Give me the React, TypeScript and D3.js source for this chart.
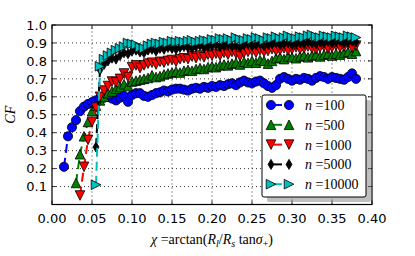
import * as d3 from "d3";
import React from "react";

const width = 415;
const height = 256;
const margin = { top: 25, right: 43, bottom: 51.5, left: 52 };

// x positions shared by all series
const xs = [
  0.015, 0.02, 0.025, 0.03, 0.035, 0.04, 0.045, 0.05, 0.055, 0.06,
  0.065, 0.07, 0.075, 0.08, 0.085, 0.09, 0.095, 0.1, 0.105, 0.11,
  0.115, 0.12, 0.125, 0.13, 0.135, 0.14, 0.145, 0.15, 0.155, 0.16,
  0.165, 0.17, 0.175, 0.18, 0.185, 0.19, 0.195, 0.2, 0.205, 0.21,
  0.215, 0.22, 0.225, 0.23, 0.235, 0.24, 0.245, 0.25, 0.255, 0.26,
  0.265, 0.27, 0.275, 0.28, 0.285, 0.29, 0.295, 0.3, 0.305, 0.31,
  0.315, 0.32, 0.325, 0.33, 0.335, 0.34, 0.345, 0.35, 0.355, 0.36,
  0.365, 0.37, 0.375, 0.38,
];

const n100 = [
  0.21, 0.38, 0.43, 0.47, 0.52, 0.545, 0.56, 0.57, 0.58, 0.59,
  0.595, 0.6, 0.59, 0.58, 0.595, 0.605, 0.572, 0.61, 0.62, 0.62,
  0.605, 0.6, 0.61, 0.62, 0.625, 0.635, 0.63, 0.64, 0.645, 0.645,
  0.64, 0.635, 0.645, 0.65, 0.645, 0.655, 0.65, 0.66, 0.655, 0.665,
  0.66, 0.67, 0.675, 0.665, 0.68, 0.69, 0.68, 0.675, 0.685, 0.69,
  0.675, 0.66, 0.65, 0.665, 0.7, 0.71, 0.7, 0.69, 0.7, 0.695,
  0.705, 0.7, 0.69, 0.705, 0.715, 0.71, 0.7, 0.71, 0.705, 0.7,
  0.695, 0.71, 0.73, 0.7,
];

const n500 = [
  null, null, null, 0.12, 0.28, 0.38, 0.46, 0.52, 0.55, 0.58,
  0.6, 0.62, 0.63, 0.645, 0.655, 0.67, 0.66, 0.685, 0.69, 0.695,
  0.7, 0.705, 0.72, 0.71, 0.715, 0.725, 0.73, 0.735, 0.74, 0.735,
  0.745, 0.75, 0.745, 0.755, 0.76, 0.755, 0.765, 0.77, 0.765, 0.775,
  0.78, 0.775, 0.785, 0.79, 0.78, 0.795, 0.79, 0.8, 0.79, 0.805,
  0.8, 0.785, 0.8, 0.815, 0.82, 0.81, 0.825, 0.82, 0.815, 0.825,
  0.83, 0.82, 0.83, 0.835, 0.825, 0.835, 0.84, 0.83, 0.84, 0.835,
  0.845, 0.85, 0.84, 0.855,
];

const n1000 = [
  null, null, null, null, 0.05, 0.21, 0.36, 0.46, 0.54, 0.6,
  0.635, 0.66, 0.685, 0.68, 0.7, 0.73, 0.71, 0.765, 0.775, 0.76,
  0.775, 0.785, 0.79, 0.78, 0.795, 0.79, 0.8, 0.805, 0.795, 0.81,
  0.815, 0.81, 0.825, 0.815, 0.83, 0.82, 0.835, 0.83, 0.84, 0.83,
  0.845, 0.835, 0.85, 0.84, 0.825, 0.845, 0.85, 0.855, 0.845, 0.86,
  0.85, 0.855, 0.865, 0.855, 0.86, 0.87, 0.86, 0.865, 0.875, 0.865,
  0.87, 0.88, 0.87, 0.865, 0.875, 0.88, 0.87, 0.875, 0.885, 0.875,
  0.88, 0.89, 0.875, 0.885,
];

const n5000 = [
  null, null, null, null, null, null, null, null, 0.32, 0.75,
  0.78, 0.8, 0.815, 0.81, 0.83, 0.845, 0.84, 0.855, 0.86, 0.85,
  0.845, 0.86, 0.865, 0.855, 0.87, 0.865, 0.875, 0.87, 0.865, 0.875,
  0.88, 0.875, 0.87, 0.88, 0.885, 0.875, 0.88, 0.885, 0.89, 0.88,
  0.885, 0.89, 0.88, 0.885, 0.875, 0.89, 0.895, 0.885, 0.89, 0.895,
  0.885, 0.89, 0.895, 0.9, 0.89, 0.895, 0.9, 0.89, 0.895, 0.9,
  0.895, 0.905, 0.9, 0.895, 0.905, 0.9, 0.91, 0.9, 0.905, 0.91,
  0.9, 0.905, 0.91, 0.905,
];

const n10000 = [
  null, null, null, null, null, null, null, null, 0.11, 0.77,
  0.81, 0.83, 0.845, 0.86, 0.87, 0.88, 0.9, 0.895, 0.89, 0.875,
  0.87, 0.885, 0.895, 0.9, 0.895, 0.905, 0.9, 0.91, 0.905, 0.91,
  0.905, 0.91, 0.915, 0.905, 0.91, 0.915, 0.91, 0.92, 0.915, 0.925,
  0.92, 0.925, 0.915, 0.93, 0.92, 0.915, 0.925, 0.92, 0.93, 0.925,
  0.915, 0.93, 0.925, 0.935, 0.925, 0.93, 0.94, 0.93, 0.925, 0.935,
  0.93, 0.94, 0.945, 0.935, 0.93, 0.94, 0.935, 0.93, 0.94, 0.935,
  0.93, 0.94, 0.935, 0.93,
];

const seriesLabels = ["100", "500", "1000", "5000", "10000"];
const seriesValues = [n100, n500, n1000, n5000, n10000];
const seriesColors = ["#0000ff", "#008000", "#ff0000", "#000000", "#00bfbf"];
const seriesShapes = ["o", "^", "v", "d", ">"];

const xTicks = [0, 0.05, 0.1, 0.15, 0.2, 0.25, 0.3, 0.35, 0.4];
const yTicks = [0.1, 0.2, 0.3, 0.4, 0.5, 0.6, 0.7, 0.8, 0.9, 1.0];

const mathFont = "'Liberation Serif', 'DejaVu Serif', serif";
const tickFont = "'DejaVu Sans', sans-serif";

// matplotlib-like marker outlines
const markerPath = (shape: string, s: number) => {
  switch (shape) {
    case "^":
      return `M0,${-s}L${s},${s}L${-s},${s}Z`;
    case "v":
      return `M0,${s}L${s},${-s}L${-s},${-s}Z`;
    case ">":
      return `M${s},0L${-s},${s}L${-s},${-s}Z`;
    case "d":
      return `M0,${-s * 1.05}L${s * 0.62},0L0,${s * 1.05}L${-s * 0.62},0Z`;
    default:
      return d3.symbol(d3.symbolCircle, Math.PI * s * s)() || "";
  }
};

const Marker = ({ shape, color, x, y }: any) => (
  <path
    d={markerPath(shape, shape === "o" ? 4.6 : 4.8)}
    transform={`translate(${x},${y})`}
    fill={color}
    stroke="#000"
    strokeWidth={0.8}
  />
);

const App = () => {
  const x = d3
    .scaleLinear()
    .domain([0, 0.4])
    .range([margin.left, width - margin.right]);
  const y = d3
    .scaleLinear()
    .domain([0, 1])
    .range([height - margin.bottom, margin.top]);

  const line = d3
    .line<any>()
    .defined((d) => d.v != null)
    .x((d) => x(d.x))
    .y((d) => y(d.v));

  const x0 = margin.left;
  const x1 = width - margin.right;
  const y0 = height - margin.bottom;
  const y1 = margin.top;

  // legend geometry
  const lg = { left: 262, top: 95, w: 104, h: 102 };
  const rowY = (i: number) => 105 + i * 19.8;

  return (
    <svg
      width={width}
      height={height}
      style={{ position: "absolute", left: 0, top: 0, background: "#fff" }}
    >
      <defs>
        <clipPath id="plotArea">
          <rect x={x0} y={y1} width={x1 - x0} height={y0 - y1} />
        </clipPath>
      </defs>

      {/* grid */}
      <g stroke="#000" strokeWidth={0.8} strokeDasharray="1,3">
        {xTicks.slice(1, -1).map((t) => (
          <line key={"gx" + t} x1={x(t)} x2={x(t)} y1={y0} y2={y1} />
        ))}
        {yTicks.slice(0, -1).map((t) => (
          <line key={"gy" + t} x1={x0} x2={x1} y1={y(t)} y2={y(t)} />
        ))}
      </g>

      {/* series */}
      <g clipPath="url(#plotArea)">
        {seriesValues.map((vals, si) => {
          const pts = xs.map((xv, i) => ({ x: xv, v: vals[i] }));
          return (
            <g key={si}>
              <path
                d={line(pts) || ""}
                fill="none"
                stroke={seriesColors[si]}
                strokeWidth={2}
                strokeDasharray="9,5"
              />
              {pts
                .filter((p) => p.v != null)
                .map((p, i) => (
                  <Marker
                    key={i}
                    shape={seriesShapes[si]}
                    color={seriesColors[si]}
                    x={x(p.x)}
                    y={y(p.v)}
                  />
                ))}
            </g>
          );
        })}
      </g>

      {/* ticks, inside on all sides */}
      <g stroke="#000" strokeWidth={0.8}>
        {xTicks.map((t) => (
          <g key={"tx" + t}>
            <line x1={x(t)} x2={x(t)} y1={y0} y2={y0 - 4} />
            <line x1={x(t)} x2={x(t)} y1={y1} y2={y1 + 4} />
          </g>
        ))}
        {yTicks.map((t) => (
          <g key={"ty" + t}>
            <line x1={x0} x2={x0 + 4} y1={y(t)} y2={y(t)} />
            <line x1={x1} x2={x1 - 4} y1={y(t)} y2={y(t)} />
          </g>
        ))}
      </g>

      {/* frame */}
      <rect
        x={x0}
        y={y1}
        width={x1 - x0}
        height={y0 - y1}
        fill="none"
        stroke="#000"
        strokeWidth={1.2}
      />

      {/* tick labels */}
      <g fontFamily={tickFont} fontSize={13} fill="#000">
        {xTicks.map((t) => (
          <text key={"lx" + t} x={x(t)} y={y0 + 18} textAnchor="middle">
            {d3.format(".2f")(t)}
          </text>
        ))}
        {yTicks.map((t) => (
          <text
            key={"ly" + t}
            x={x0 - 5}
            y={y(t)}
            dy="0.36em"
            textAnchor="end"
          >
            {d3.format(".1f")(t)}
          </text>
        ))}
      </g>

      {/* axis labels */}
      <text
        transform={`translate(15,${(y0 + y1) / 2}) rotate(-90)`}
        textAnchor="middle"
        fontFamily={mathFont}
        fontStyle="italic"
        fontSize={14}
      >
        CF
      </text>
      <text
        x={(x0 + x1) / 2}
        y={244}
        textAnchor="middle"
        fontFamily={mathFont}
        fontSize={14}
      >
        <tspan fontStyle="italic">χ</tspan>
        <tspan> =arctan(</tspan>
        <tspan fontStyle="italic">R</tspan>
        <tspan fontStyle="italic" fontSize={10} dy={3}>l</tspan>
        <tspan dy={-3}>/</tspan>
        <tspan fontStyle="italic">R</tspan>
        <tspan fontStyle="italic" fontSize={10} dy={3}>s</tspan>
        <tspan dy={-3}> tan</tspan>
        <tspan fontStyle="italic">σ</tspan>
        <tspan fontSize={10} dy={3}>+</tspan>
        <tspan dy={-3}>)</tspan>
      </text>

      {/* legend */}
      <rect
        x={lg.left + 5}
        y={lg.top + 5}
        width={lg.w}
        height={lg.h}
        rx={2}
        fill="#808080"
        opacity={0.5}
      />
      <rect
        x={lg.left}
        y={lg.top}
        width={lg.w}
        height={lg.h}
        rx={2}
        fill="#fff"
        stroke="#000"
        strokeWidth={1}
      />
      {seriesLabels.map((lab, i) => (
        <g key={"lg" + lab}>
          <line
            x1={271}
            x2={289}
            y1={rowY(i)}
            y2={rowY(i)}
            stroke={seriesColors[i]}
            strokeWidth={2}
            strokeDasharray="11,7"
          />
          <Marker shape={seriesShapes[i]} color={seriesColors[i]} x={271} y={rowY(i)} />
          <Marker shape={seriesShapes[i]} color={seriesColors[i]} x={289} y={rowY(i)} />
          <text x={305} y={rowY(i)} dy="0.35em" fontFamily={mathFont} fontSize={14}>
            <tspan fontStyle="italic">n</tspan>
            <tspan> =</tspan>
            <tspan>{lab}</tspan>
          </text>
        </g>
      ))}
    </svg>
  );
};

export default App;
